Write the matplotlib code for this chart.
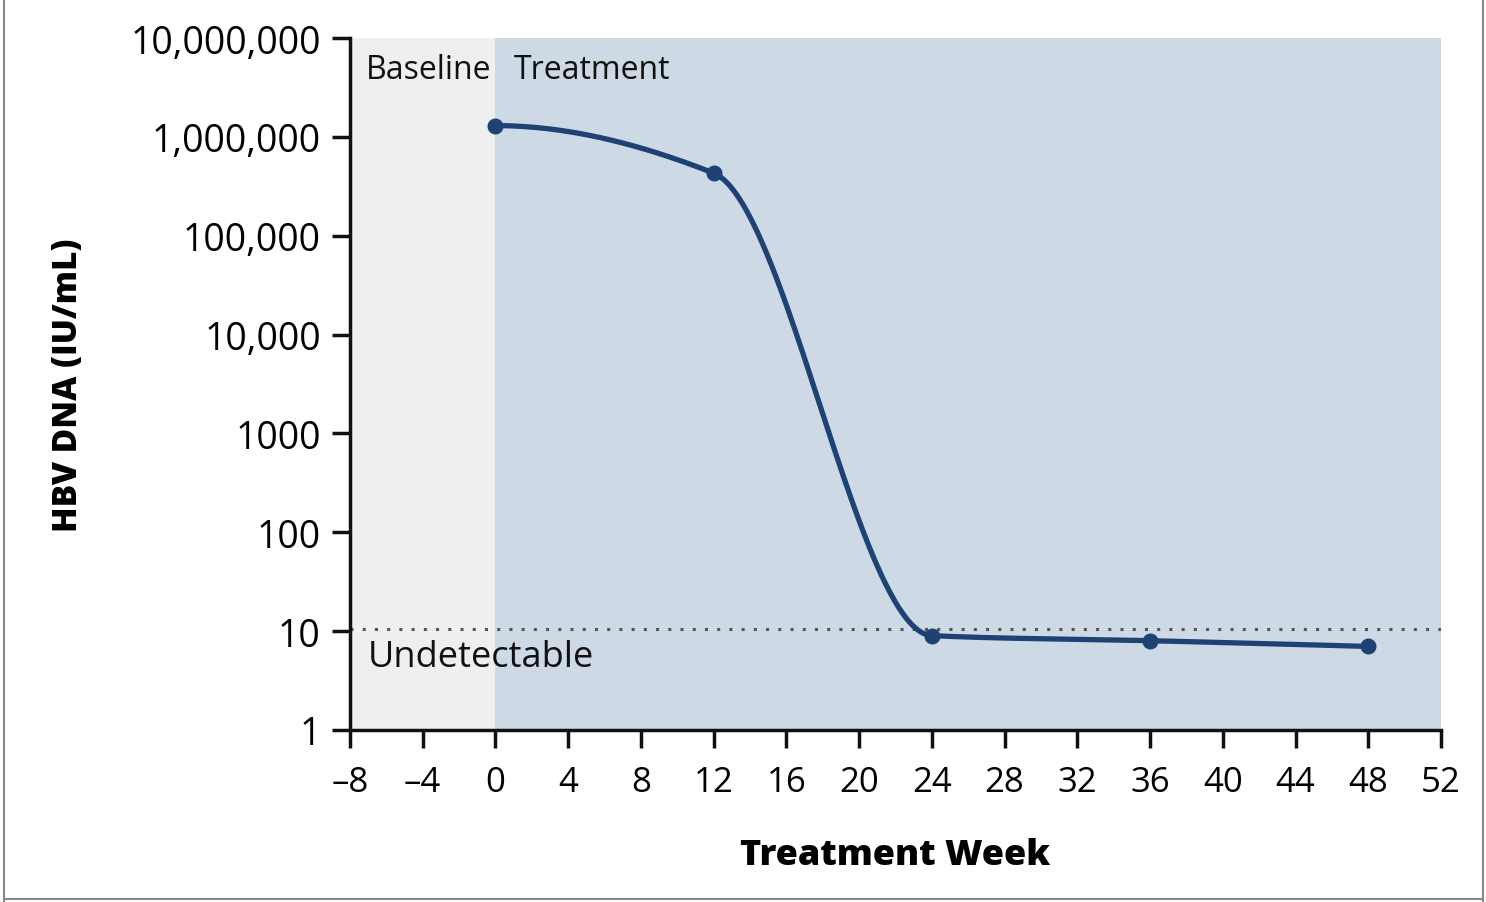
import numpy as np
import matplotlib
matplotlib.use("Agg")
import matplotlib.pyplot as plt
from matplotlib.lines import Line2D

# ---- data ----
weeks = [0, 12, 24, 36, 48]
hbv_dna = [1.3e6, 4.3e5, 9.0, 8.0, 7.0]
lloq = 10.6
x_ticks = list(range(-8, 53, 4))
y_ticks = [1, 10, 100, 1000, 10000, 100000, 1000000, 10000000]
y_tick_labels = ["1", "10", "100", "1000", "10,000", "100,000", "1,000,000", "10,000,000"]
baseline_span = (-8, 0)
treatment_span = (0, 52)

LINE = "#1e4274"
FONT = "Open Sans"

plt.rcParams["font.family"] = [FONT, "DejaVu Sans"]


def pchip(x, y, xn):
    x = np.asarray(x, float); y = np.asarray(y, float)
    h = np.diff(x); d = np.diff(y) / h
    n = len(x)
    m = np.zeros(n)
    for k in range(1, n - 1):
        if d[k - 1] * d[k] > 0:
            w1 = 2 * h[k] + h[k - 1]
            w2 = h[k] + 2 * h[k - 1]
            m[k] = (w1 + w2) / (w1 / d[k - 1] + w2 / d[k])
    def end(h0, h1, d0, d1):
        s = ((2 * h0 + h1) * d0 - h0 * d1) / (h0 + h1)
        if np.sign(s) != np.sign(d0):
            s = 0.0
        elif np.sign(d0) != np.sign(d1) and abs(s) > abs(3 * d0):
            s = 3 * d0
        return s
    m[0] = end(h[0], h[1], d[0], d[1])
    m[-1] = end(h[-1], h[-2], d[-1], d[-2])
    out = np.empty_like(xn)
    idx = np.clip(np.searchsorted(x, xn) - 1, 0, n - 2)
    for i, xv in enumerate(xn):
        k = idx[i]
        t = (xv - x[k]) / h[k]
        h00 = 2 * t**3 - 3 * t**2 + 1
        h10 = t**3 - 2 * t**2 + t
        h01 = -2 * t**3 + 3 * t**2
        h11 = t**3 - t**2
        out[i] = h00 * y[k] + h10 * h[k] * m[k] + h01 * y[k + 1] + h11 * h[k] * m[k + 1]
    return out


fig = plt.figure(figsize=(14.86, 9.03), dpi=100)
ax = fig.add_axes([0.2355, 0.1905, 0.7342, 0.7663])

ax.axvspan(*baseline_span, color="#efefef", zorder=0, lw=0)
ax.axvspan(*treatment_span, color="#cdd9e5", zorder=0, lw=0)

ax.axhline(lloq, color="#555555", ls=(0, (1, 3)), lw=2.2, zorder=1)

xs = np.linspace(weeks[0], weeks[-1], 600)
ys = 10 ** pchip(weeks, np.log10(hbv_dna), xs)
ax.plot(xs, ys, color=LINE, lw=3.8, zorder=3, solid_capstyle="round")
ax.plot(weeks, hbv_dna, "o", color=LINE, ms=10.5, zorder=4)

ax.set_yscale("log")
ax.set_xlim(-8, 52)
ax.set_ylim(1, 1e7)
ax.set_xticks(x_ticks)
ax.set_xticklabels([str(v).replace("-", "\u2013") for v in x_ticks])
ax.set_yticks(y_ticks)
ax.set_yticklabels(y_tick_labels)
ax.yaxis.set_minor_locator(matplotlib.ticker.NullLocator())

for s in ["top", "right"]:
    ax.spines[s].set_visible(False)
for s in ["left", "bottom"]:
    ax.spines[s].set_linewidth(2.5)
    ax.spines[s].set_color("#111111")
ax.tick_params(axis="both", direction="out", length=13, width=2.5, color="#111111", pad=8)
ax.tick_params(axis="x", pad=12, labelsize=25)
ax.tick_params(axis="y", labelsize=27)

ax.text(-7.1, 4.8e6, "Baseline", fontsize=23, va="center", ha="left", color="#111111")
ax.text(1.0, 4.8e6, "Treatment", fontsize=23, va="center", ha="left", color="#111111")
ax.text(-7.0, 5.5, "Undetectable", fontsize=26, va="center", ha="left", color="#111111")

ax.set_xlabel("Treatment Week", fontsize=26, fontweight="heavy")
ax.xaxis.set_label_coords(0.5, -0.155)
ax.set_ylabel("HBV DNA (IU/mL)", fontsize=24, fontweight="heavy")
ax.yaxis.set_label_coords(-0.243, 0.5)

# outer frame
for xy in [([0.003, 0.003], [0.0, 1.0]), ([0.998, 0.998], [0.0, 1.0]), ([0.003, 0.998], [0.003, 0.003])]:
    fig.add_artist(Line2D(xy[0], xy[1], color="#888888", lw=1.5, transform=fig.transFigure))

fig.savefig("out.png", dpi=100)
